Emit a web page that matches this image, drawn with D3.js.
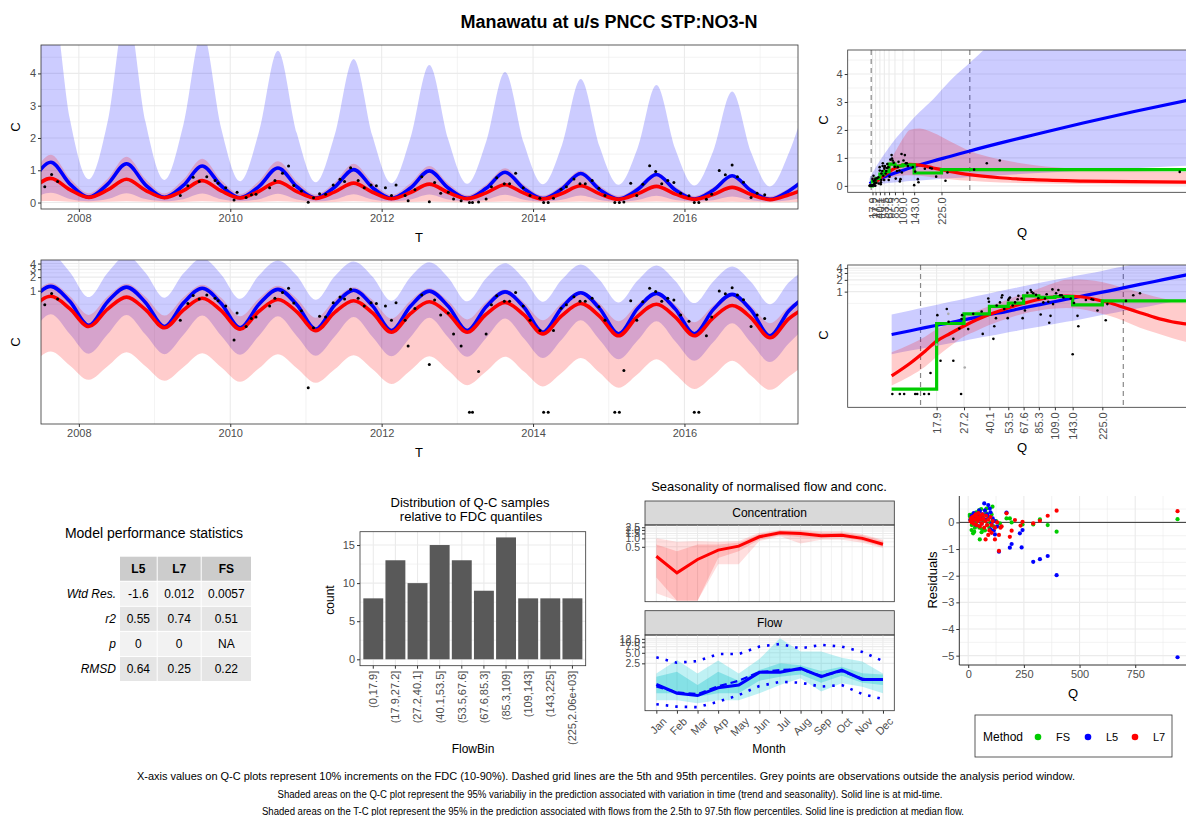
<!DOCTYPE html>
<html>
<head>
<meta charset="utf-8">
<script src="https://cdn.jsdelivr.net/npm/d3@7"></script>
<style>
  body { margin: 0; background: #fff; }
  svg text { font-family: "Liberation Sans", Arial, sans-serif; }
  .tick line { stroke: #333; }
  .tick text { fill: #4d4d4d; font-size: 11px; }
</style>
</head>
<body>
<svg id="chart" width="1186" height="816"></svg>
<script>
// ---------------- data ----------------
const chartTitle = "Manawatu at u/s PNCC STP:NO3-N";

// T-C model curves, sampled each quarter of a year (peaks ~Aug, troughs ~Feb)
const tcTime = [2007.38,2007.63,2007.88,2008.13,2008.38,2008.63,2008.88,2009.13,2009.38,2009.63,
  2009.88,2010.13,2010.38,2010.63,2010.88,2011.13,2011.38,2011.63,2011.88,2012.13,2012.38,2012.63,
  2012.88,2013.13,2013.38,2013.63,2013.88,2014.13,2014.38,2014.63,2014.88,2015.13,2015.38,2015.63,
  2015.88,2016.13,2016.38,2016.63,2016.88,2017.13,2017.38,2017.63];
const tcL5 = [0.60,1.25,0.58,0.17,0.57,1.20,0.55,0.16,0.53,1.13,0.52,0.15,0.50,1.07,0.49,0.14,0.48,1.02,
  0.46,0.13,0.45,0.98,0.45,0.13,0.44,0.94,0.43,0.12,0.42,0.90,0.40,0.11,0.40,0.87,0.39,0.11,0.38,0.83,
  0.37,0.10,0.36,0.80];
const tcL7 = [0.40,0.75,0.40,0.16,0.39,0.72,0.38,0.15,0.37,0.68,0.36,0.14,0.35,0.64,0.34,0.13,0.33,0.60,
  0.32,0.12,0.31,0.57,0.31,0.12,0.30,0.55,0.29,0.11,0.28,0.52,0.27,0.10,0.27,0.50,0.26,0.10,0.25,0.47,
  0.25,0.09,0.24,0.45];
const tcL5Hi = [2.5,6.5,2.6,0.72,2.5,6.0,2.5,0.70,2.4,5.3,2.3,0.66,2.2,4.7,2.15,0.63,2.1,4.45,2.05,0.60,
  2.0,4.26,1.95,0.58,1.88,4.04,1.83,0.57,1.77,3.83,1.73,0.55,1.68,3.64,1.65,0.53,1.6,3.44,1.56,0.50,1.54,3.3];
const tcL5Lo = [0.11,0.30,0.11,0.040,0.108,0.29,0.106,0.039,0.104,0.28,0.10,0.038,0.10,0.27,0.098,0.036,
  0.096,0.26,0.094,0.035,0.093,0.25,0.091,0.034,0.089,0.24,0.087,0.032,0.083,0.22,0.081,0.030,0.078,0.21,
  0.075,0.028,0.072,0.19,0.07,0.026,0.068,0.18];
const tcL7Hi = [0.76,1.48,0.76,0.29,0.74,1.42,0.73,0.28,0.71,1.36,0.70,0.27,0.67,1.28,0.66,0.25,0.63,1.20,
  0.62,0.24,0.60,1.13,0.59,0.23,0.56,1.06,0.55,0.22,0.53,0.99,0.52,0.21,0.50,0.93,0.49,0.20,0.47,0.87,
  0.46,0.19,0.44,0.82];
const tcL7Lo = [0.022,0.045,0.022,0.0105,0.021,0.043,0.021,0.010,0.020,0.041,0.020,0.0095,0.019,0.039,
  0.019,0.009,0.018,0.037,0.018,0.0085,0.017,0.035,0.017,0.008,0.016,0.034,0.016,0.0075,0.015,0.032,
  0.015,0.007,0.014,0.030,0.014,0.0066,0.013,0.028,0.013,0.0063,0.0125,0.026];

// observations [decimal year, C]
const tcObs = [[2007.55,0.49],[2007.64,0.87],[2007.72,0.65],
  [2009.34,0.22],[2009.44,0.52],[2009.51,0.78],[2009.59,0.65],[2009.69,0.80],[2009.80,0.68],[2009.84,0.60],[2009.94,0.46],
  [2010.05,0.08],[2010.09,0.32],[2010.21,0.16],[2010.28,0.24],[2010.34,0.26],[2010.52,0.46],[2010.59,0.68],[2010.69,0.91],
  [2010.77,1.13],[2010.84,0.53],[2010.94,0.36],
  [2011.03,0.007],[2011.10,0.15],[2011.18,0.27],[2011.26,0.26],[2011.36,0.54],[2011.45,0.72],[2011.51,0.65],[2011.59,1.08],
  [2011.69,0.68],[2011.77,0.46],[2011.86,0.54],[2011.93,0.52],
  [2012.05,0.46],[2012.13,0.22],[2012.19,0.54],[2012.31,0.22],[2012.35,0.059],[2012.44,0.40],[2012.53,0.80],[2012.63,0.023],
  [2012.70,0.62],[2012.78,0.29],[2012.88,0.32],[2012.95,0.11],
  [2013.05,0.059],[2013.16,0.002],[2013.20,0.002],[2013.28,0.016],[2013.38,0.11],[2013.45,0.49],[2013.52,0.77],[2013.62,0.58],
  [2013.69,0.58],[2013.77,0.91],[2013.87,0.46],[2013.96,0.22],
  [2014.09,0.13],[2014.14,0.002],[2014.20,0.002],[2014.27,0.13],[2014.37,0.41],[2014.44,0.49],[2014.54,0.73],[2014.62,0.58],
  [2014.69,0.58],[2014.78,0.68],[2014.87,0.44],[2014.95,0.22],
  [2015.08,0.002],[2015.14,0.002],[2015.20,0.017],[2015.29,0.60],[2015.37,0.22],[2015.45,0.57],[2015.54,1.14],[2015.62,0.96],
  [2015.70,0.58],[2015.78,0.68],[2015.86,0.62],[2015.95,0.29],
  [2016.06,0.21],[2016.13,0.002],[2016.19,0.002],[2016.29,0.10],[2016.36,0.26],[2016.46,0.99],[2016.54,0.86],[2016.63,1.16],
  [2016.70,0.80],[2016.78,0.63],[2016.88,0.16],[2016.96,0.29],[2017.06,0.24]];
const tYears = [2008,2010,2012,2014,2016];

// Q-C model curves
const qGrid = [9,12,15,18,22,27,33,40,50,60,75,90,110,130,160,200,250,310,400,500,650,800,1000];
const qcL5 = [0.080,0.100,0.12,0.138,0.16,0.19,0.22,0.26,0.30,0.35,0.42,0.48,0.56,0.64,0.75,0.89,1.05,1.25,1.53,1.82,2.25,2.65,3.15];
const qcL5Hi = [0.26,0.33,0.40,0.46,0.55,0.65,0.77,0.90,1.08,1.25,1.50,1.73,2.0,2.28,2.65,3.1,3.75,4.4,5.4,6.5,8.0,9.5,11.5];
const qcL5Lo = [0.025,0.031,0.036,0.041,0.048,0.055,0.064,0.073,0.086,0.098,0.115,0.13,0.15,0.17,0.195,0.23,0.27,0.32,0.38,0.45,0.54,0.63,0.74];
const qcL7 = [0.007,0.015,0.030,0.055,0.085,0.13,0.19,0.26,0.35,0.44,0.56,0.66,0.74,0.77,0.74,0.64,0.52,0.40,0.29,0.22,0.17,0.15,0.13];
const qcL7Hi = [0.028,0.045,0.07,0.11,0.16,0.22,0.32,0.42,0.58,0.75,1.0,1.3,1.7,2.0,2.05,1.9,1.6,1.25,0.95,0.75,0.6,0.53,0.5];
const qcL7Lo = [0.004,0.007,0.012,0.022,0.04,0.07,0.10,0.14,0.19,0.24,0.30,0.34,0.37,0.38,0.36,0.30,0.24,0.18,0.12,0.09,0.065,0.052,0.045];
// flow-stratified (FS) step: bin start and value
const fsEdges = [9,17.9,27.2,40.1,53.5,67.6,85.3,109,143,225,1000];
const fsVals  = [0.0032,0.153,0.27,0.42,0.51,0.78,0.71,0.75,0.46,0.58,0.58];
const qBreaks = [17.9,27.2,40.1,53.5,67.6,85.3,109.0,143.0,225.0];
const qPct = [14.0, 310];   // 5th and 95th flow percentiles

// observations [Q, C]
const qcObs = [[9.1,0.0024],[10.2,0.0024],[10.9,0.0024],[12.9,0.0024],[13.3,0.0024],[14.8,0.0024],[15.9,0.0024],[26.0,0.0024],
  [16.3,0.0083],[18.1,0.25],[20.9,0.36],[21.5,0.17],[23.1,0.062],[23.1,0.017],[19.0,0.017],
  [25.3,0.114],[26.2,0.20],[26.4,0.25],[29.0,0.11],[31.3,0.27],[35.6,0.31],[36.2,0.083],[39.4,0.67],[39.8,0.55],
  [42.6,0.062],[43.2,0.13],[44.3,0.21],[44.8,0.44],[47.1,0.53],[48.3,0.71],[48.8,0.81],[50.3,0.36],[53.0,0.21],
  [53.5,0.61],[54.1,0.67],[54.9,0.71],[57.2,0.44],[59.3,0.53],[61.7,0.64],[62.4,0.78],[65.6,0.67],[66.6,0.21],
  [69.0,0.33],[71.6,0.94],[75.3,1.10],[76.4,0.98],[78.4,0.91],[81.7,0.83],[84.7,0.68],[87.7,0.26],[91.4,0.53],
  [93.7,0.67],[96.1,0.86],[98.6,0.55],[100,0.16],[102,0.24],[105,1.14],[106,0.48],[111,0.91],[115,1.10],
  [118,0.81],[121,0.81],[124,0.71],[139,0.67],[143,0.025],[146,0.51],[154,0.24],[156,0.13],[175,0.61],
  [191,0.64],[196,0.62],[209,0.33],[237,0.185],[243,0.48],[323,0.58],[361,0.81],[400,0.91],[940,0.50]];
const qcObsOld = [[21.4,0.27],[17.9,0.044],[27.5,0.0115]];

// model performance table
const statCols = ["L5","L7","FS"];
const statRows = ["Wtd Res.","r2","p","RMSD"];
const statVals = [["-1.6","0.012","0.0057"],["0.55","0.74","0.51"],["0","0","NA"],["0.64","0.25","0.22"]];

// FDC histogram
const flowBins = ["(0,17.9]","(17.9,27.2]","(27.2,40.1]","(40.1,53.5]","(53.5,67.6]","(67.6,85.3]",
  "(85.3,109]","(109,143]","(143,225]","(225,2.06e+03]"];
const flowCounts = [8,13,10,15,13,9,16,8,8,8];

// seasonality
const months = [1,2,3,4,5,6,7,8,9,10,11,12];
const monthNames = ["Jan","Feb","Mar","Arp","May","Jun","Jul","Aug","Sep","Oct","Nov","Dec"];
const concMid   = [0.23,0.059,0.177,0.38,0.53,1.14,1.58,1.5,1.24,1.3,1.0,0.62];
const concOutHi = [1.0,0.75,0.8,0.75,0.8,1.6,2.0,2.0,1.8,1.8,1.4,0.9];
const concOutLo = [0.011,0.006,0.006,0.12,0.12,0.8,1.2,0.65,0.9,0.9,0.7,0.45];
const concInHi  = [0.6,0.35,0.6,0.6,0.7,1.4,1.9,1.8,1.6,1.6,1.3,0.8];
const concInLo  = [0.04,0.006,0.006,0.2,0.35,0.9,1.3,1.1,1.0,1.1,0.8,0.5];
const flowMed   = [0.63,0.35,0.30,0.50,0.60,1.38,1.40,1.79,1.04,1.61,0.87,0.87];
const flowMean  = [0.55,0.37,0.33,0.55,0.80,1.40,1.60,1.70,1.10,1.50,0.90,0.85];
const flowP90   = [3.7,2.6,2.9,4.6,4.6,7.5,8.9,6.7,8.4,7.5,5.3,2.9];
const flowP10   = [0.17,0.145,0.14,0.20,0.31,0.56,0.74,0.70,0.54,0.60,0.33,0.24];
const flowOutHi = [1.29,3.1,1.29,3.0,1.29,3.3,12.9,5.4,5.4,3.6,2.8,1.29];
const flowOutLo = [0.22,0.22,0.18,0.22,0.22,0.35,0.6,0.93,0.39,0.67,0.54,0.35];
const flowInHi  = [1.04,1.44,0.6,1.44,0.8,1.6,2.5,2.2,1.5,2.0,1.3,1.2];
const flowInLo  = [0.35,0.35,0.28,0.35,0.35,0.8,1.04,1.2,0.7,1.1,0.7,0.6];

// residuals [Q, residual]
const resFS = [[8,0.22],[10,0.1],[12,0.28],[14,0.05],[16,-0.1],[18,0.18],[20,0.3],[22,-0.05],[25,0.12],[27,-0.35],
  [30,0.2],[33,0.0],[36,0.38],[40,0.15],[42,-0.12],[45,0.3],[48,0.45],[50,-0.2],[55,0.1],[58,0.5],[62,-0.25],
  [65,0.2],[70,0.05],[75,-0.3],[80,0.35],[85,-0.1],[90,0.15],[95,-0.2],[100,0.0],[105,0.3],[115,-0.15],[125,0.05],
  [940,0.12],[397,-0.35],[357,-0.1],[322,0.11],[292,-0.08],[244,-0.08],[195,0.0],[187,0.15],[172,0.15],[142,-0.04],
  [109,0.59],[52,-0.64],[15,-0.29],[22,-0.41],[30,-0.2],[7,0.28],[60,-0.37],[82,0.52]];
const resL5 = [[10,0.1],[15,0.25],[20,0.0],[25,0.35],[30,0.15],[35,-0.1],[40,0.3],[45,0.1],[50,0.45],[55,0.2],
  [60,-0.05],[65,0.3],[75,0.45],[80,0.1],[85,0.3],[95,0.2],[100,0.38],[105,-0.05],[110,0.15],[115,-0.3],[120,0.05],
  [130,-0.15],[940,-5.06],[397,-1.98],[357,-1.26],[322,-1.38],[292,-1.48],[240,-0.94],[195,-0.81],[187,-0.95],
  [138,-1.1],[232,-0.41],[244,-0.29],[172,0.37],[72,0.71],[90,0.65],[97,0.52],[120,-0.45],[100,-0.26],[52,0.4],[37,0.21]];
const resL7 = [[10,0.05],[13,0.15],[16,0.0],[19,0.2],[22,0.1],[25,-0.05],[28,0.25],[31,0.1],[34,0.3],[37,-0.1],
  [40,0.2],[43,0.05],[46,0.35],[49,0.15],[52,-0.15],[55,0.25],[58,0.1],[61,-0.05],[64,0.3],[68,0.15],[72,-0.2],
  [76,0.05],[80,0.25],[85,-0.1],[90,0.1],[95,-0.3],[100,0.2],[105,-0.1],[110,0.05],[120,-0.2],[130,0.0],[145,-0.2],
  [150,-0.15],[940,0.42],[397,0.44],[357,0.25],[322,0.06],[292,-0.04],[244,0.02],[235,-0.12],[195,-0.31],[187,-0.54],
  [172,0.34],[138,-1.07],[138,-0.47],[120,-0.64],[78,-0.64],[210,0.09],[90,-0.47],[105,-0.39]];
const methods = ["FS","L5","L7"];
const methodColor = {FS: "#00cc00", L5: "#0000ff", L7: "#ff0000"};

const footNotes = [
  "X-axis values on Q-C plots represent 10% increments on the FDC (10-90%). Dashed grid lines are the 5th and 95th percentiles. Grey points are observations outside the analysis period window.",
  "Shaded areas on the Q-C plot represent the 95% variabiliy in the prediction associated with variation in time (trend and seasonality).  Solid line is at mid-time.",
  "Shaded areas on the T-C plot represent the 95% in the prediction associated with flows from the 2.5th to 97.5th flow percentiles.  Solid line is prediction at median flow."
];

// ---------------- helpers ----------------
const svg = d3.select("#chart");
const defs = svg.append("defs");
const BLUE_FILL = "rgba(0,0,255,0.2)", RED_FILL = "rgba(255,0,0,0.2)";
let clipCount = 0;

function clipUrl(x0, y0, x1, y1) {
  const id = "clip" + (clipCount++);
  defs.append("clipPath").attr("id", id).append("rect")
    .attr("x", x0).attr("y", y0).attr("width", x1 - x0).attr("height", y1 - y0);
  return `url(#${id})`;
}

// background grid + clipped plot layer
function panel(x, y, o) {
  const [x0, x1] = x.range(), [y1, y0] = y.range();
  const g = svg.append("g");
  const grid = g.append("g");
  const vLines = (vals, w) => grid.selectAll(null).data(vals || []).join("line")
      .attr("x1", d => x(d)).attr("x2", d => x(d)).attr("y1", y0).attr("y2", y1)
      .attr("stroke", "#ebebeb").attr("stroke-width", w);
  const hLines = (vals, w) => grid.selectAll(null).data(vals || []).join("line")
      .attr("y1", d => y(d)).attr("y2", d => y(d)).attr("x1", x0).attr("x2", x1)
      .attr("stroke", "#ebebeb").attr("stroke-width", w);
  vLines(o.xMinor, 0.6); hLines(o.yMinor, 0.6);
  vLines(o.xMajor, 1.1); hLines(o.yMajor, 1.1);
  const plot = g.append("g").attr("clip-path", clipUrl(x0, y0, x1, y1));
  return {g, plot, x0, x1, y0, y1};
}

function border(p) {
  p.g.append("rect").attr("x", p.x0).attr("y", p.y0)
    .attr("width", p.x1 - p.x0).attr("height", p.y1 - p.y0)
    .attr("fill", "none").attr("stroke", "#333").attr("stroke-width", 0.8);
}

function axisBottom(p, x, vals, fmt) {
  const a = p.g.append("g").attr("transform", `translate(0,${p.y1})`)
    .call(d3.axisBottom(x).tickValues(vals).tickFormat(fmt).tickSize(3).tickPadding(2));
  a.select(".domain").remove();
  return a;
}
function axisLeft(p, y, vals, fmt) {
  const a = p.g.append("g").attr("transform", `translate(${p.x0},0)`)
    .call(d3.axisLeft(y).tickValues(vals).tickFormat(fmt).tickSize(3).tickPadding(2));
  a.select(".domain").remove();
  return a;
}
function label(txt, x, y, size, rot, weight) {
  const t = svg.append("text").attr("x", x).attr("y", y)
    .attr("text-anchor", "middle").attr("dominant-baseline", "central")
    .attr("font-size", size).attr("fill", "#000").text(txt);
  if (rot) t.attr("transform", `rotate(${rot},${x},${y})`);
  if (weight) t.attr("font-weight", weight);
  return t;
}

svg.append("text").attr("x", 609).attr("y", 28).attr("text-anchor", "middle")
  .attr("font-size", 18).attr("font-weight", "bold").text(chartTitle);

// ---------------- T-C panels ----------------
const tcRows = tcTime.map((t, i) => ({t, l5: tcL5[i], l7: tcL7[i], l5hi: tcL5Hi[i], l5lo: tcL5Lo[i],
  l7hi: tcL7Hi[i], l7lo: tcL7Lo[i]}));

function tcPanel(top, y, yMajor, yMinor, yTicks, yFmt) {
  const x = d3.scaleLinear().domain([2007.5, 2017.5]).range([41, 798]);
  y.range([top + 164, top]);
  const p = panel(x, y, {xMajor: tYears, xMinor: [2009,2011,2013,2015,2017], yMajor, yMinor});
  const area = (lo, hi) => d3.area().x(d => x(d.t)).y0(d => y(d[lo])).y1(d => y(d[hi])).curve(d3.curveMonotoneX);
  const line = k => d3.line().x(d => x(d.t)).y(d => y(d[k])).curve(d3.curveMonotoneX);
  p.plot.append("path").datum(tcRows).attr("d", area("l5lo", "l5hi")).attr("fill", BLUE_FILL);
  p.plot.append("path").datum(tcRows).attr("d", area("l7lo", "l7hi")).attr("fill", RED_FILL);
  p.plot.append("path").datum(tcRows).attr("d", line("l5")).attr("fill", "none").attr("stroke", "#0000ff").attr("stroke-width", 3.6);
  p.plot.append("path").datum(tcRows).attr("d", line("l7")).attr("fill", "none").attr("stroke", "#ff0000").attr("stroke-width", 3.6);
  p.plot.selectAll(null).data(tcObs).join("circle")
    .attr("cx", d => x(d[0])).attr("cy", d => y(d[1])).attr("r", 1.5).attr("fill", "#000");
  border(p);
  axisBottom(p, x, tYears, d3.format("d"));
  axisLeft(p, y, yTicks, yFmt);
  label("T", 419, top + 192, 13);
  label("C", 15, top + 82, 13, -90);
}
tcPanel(45, d3.scaleLinear().domain([-0.2, 4.88]), [0,1,2,3,4], [0.5,1.5,2.5,3.5,4.5], [0,1,2,3,4], d3.format("d"));
tcPanel(260, d3.scaleLog().domain([0.0011, 4.8]), [1,2,3,4], [0.5,1.5,2.5,3.5], [1,2,3,4], d3.format("d"));

// ---------------- Q-C panels ----------------
const qcRows = qGrid.map((q, i) => ({q, l5: qcL5[i], l7: qcL7[i], l5hi: qcL5Hi[i], l5lo: qcL5Lo[i],
  l7hi: qcL7Hi[i], l7lo: qcL7Lo[i]}));
const fsRows = fsEdges.map((q, i) => ({q, v: fsVals[i]}));

function qcPanel(top, x, y, yMajor, yMinor, yTicks) {
  const h = 142.3;
  y.range([top + h, top]);
  const p = panel(x, y, {xMajor: qBreaks, yMajor, yMinor});
  const area = (lo, hi) => d3.area().x(d => x(d.q)).y0(d => y(d[lo])).y1(d => y(d[hi])).curve(d3.curveMonotoneX);
  const line = k => d3.line().x(d => x(d.q)).y(d => y(d[k])).curve(d3.curveMonotoneX);
  p.plot.selectAll(null).data(qPct).join("line")
    .attr("x1", d => x(d)).attr("x2", d => x(d)).attr("y1", p.y0).attr("y2", p.y1)
    .attr("stroke", "#888").attr("stroke-width", 1.2).attr("stroke-dasharray", "5,4");
  p.plot.append("path").datum(qcRows).attr("d", area("l5lo", "l5hi")).attr("fill", BLUE_FILL);
  p.plot.append("path").datum(qcRows).attr("d", area("l7lo", "l7hi")).attr("fill", RED_FILL);
  p.plot.append("path").datum(qcRows).attr("d", line("l5")).attr("fill", "none").attr("stroke", "#0000ff").attr("stroke-width", 3.2);
  p.plot.append("path").datum(qcRows).attr("d", line("l7")).attr("fill", "none").attr("stroke", "#ff0000").attr("stroke-width", 3.2);
  p.plot.append("path").datum(fsRows)
    .attr("d", d3.line().x(d => x(d.q)).y(d => y(d.v)).curve(d3.curveStepAfter))
    .attr("fill", "none").attr("stroke", "#00cc00").attr("stroke-width", 3.2);
  p.plot.selectAll(null).data(qcObsOld).join("circle")
    .attr("cx", d => x(d[0])).attr("cy", d => y(d[1])).attr("r", 1.3).attr("fill", "#aaa");
  p.plot.selectAll(null).data(qcObs).join("circle")
    .attr("cx", d => x(d[0])).attr("cy", d => y(d[1])).attr("r", 1.3).attr("fill", "#000");
  border(p);
  const ax = axisBottom(p, x, qBreaks, d3.format(".1f"));
  ax.selectAll("text").attr("transform", "rotate(-90)").attr("text-anchor", "end")
    .attr("x", -5).attr("y", 0).attr("dy", "0.35em");
  axisLeft(p, y, yTicks, d3.format("d"));
  label("Q", 1022, top + 182, 13);
  label("C", 823, top + 70, 13, -90);
}
qcPanel(50, d3.scaleLinear().domain([-56.5, 988]).range([847.7, 1195.7]),
  d3.scaleLinear().domain([-0.23, 4.86]), [0,1,2,3,4], [0.5,1.5,2.5,3.5,4.5], [0,1,2,3,4]);
qcPanel(265, d3.scaleLog().domain([4.6, 937]).range([847.7, 1195.7]),
  d3.scaleLog().domain([0.0011, 4.8]), [1,2,3,4], [0.5,1.5,2.5,3.5], [1,2,3,4]);

// ---------------- statistics table ----------------
label("Model performance statistics", 154, 533, 14);
const colX = d3.scaleOrdinal().domain(statCols).range([120, 157.7, 201.7]);
const colW = d3.scaleOrdinal().domain(statCols).range([36.7, 43, 49.3]);
const rowY = d3.scaleBand().domain(["head"].concat(statRows)).range([556.7, 681]).paddingInner(0.04);
const tbl = svg.append("g");
tbl.selectAll(null).data(statCols).join("rect")
  .attr("x", c => colX(c)).attr("y", rowY("head")).attr("width", c => colW(c)).attr("height", rowY.bandwidth())
  .attr("fill", "#cccccc");
tbl.selectAll(null).data(statCols).join("text")
  .attr("x", c => colX(c) + colW(c) / 2).attr("y", rowY("head") + rowY.bandwidth() / 2)
  .attr("text-anchor", "middle").attr("dominant-baseline", "central")
  .attr("font-size", 12).attr("font-weight", "bold").text(c => c);
statRows.forEach((r, i) => {
  const yy = rowY(r);
  tbl.selectAll(null).data(statCols).join("rect")
    .attr("x", c => colX(c)).attr("y", yy).attr("width", c => colW(c)).attr("height", rowY.bandwidth())
    .attr("fill", i % 2 === 0 ? "#f2f2f2" : "#e5e5e5");
  tbl.selectAll(null).data(statCols).join("text")
    .attr("x", c => colX(c) + colW(c) / 2).attr("y", yy + rowY.bandwidth() / 2)
    .attr("text-anchor", "middle").attr("dominant-baseline", "central").attr("font-size", 12)
    .text((c, j) => statVals[i][j]);
  tbl.append("text").attr("x", 116).attr("y", yy + rowY.bandwidth() / 2)
    .attr("text-anchor", "end").attr("dominant-baseline", "central")
    .attr("font-size", 12).attr("font-style", "italic").text(r);
});

// ---------------- FDC histogram ----------------
label("Distribution of Q-C samples", 470, 502, 13);
label("relative to FDC quantiles", 471, 516, 13);
{
  const x = d3.scaleBand().domain(flowBins).range([360, 585.7]).paddingInner(0.1).paddingOuter(0.15);
  const y = d3.scaleLinear().domain([-0.84, 16.75]).range([665.7, 531.7]);
  const p = panel(x, y, {yMajor: [0,5,10,15], yMinor: [2.5,7.5,12.5]});
  p.g.select("g").selectAll(null).data(flowBins).join("line")
    .attr("x1", d => x(d) + x.bandwidth() / 2).attr("x2", d => x(d) + x.bandwidth() / 2)
    .attr("y1", p.y0).attr("y2", p.y1).attr("stroke", "#ebebeb").attr("stroke-width", 1.1);
  p.plot.selectAll(null).data(flowBins).join("rect")
    .attr("x", d => x(d)).attr("width", x.bandwidth())
    .attr("y", (d, i) => y(flowCounts[i])).attr("height", (d, i) => y(0) - y(flowCounts[i]))
    .attr("fill", "#595959");
  border(p);
  const ax = axisBottom(p, x, flowBins, d => d);
  ax.selectAll("text").attr("transform", "rotate(-90)").attr("text-anchor", "end")
    .attr("x", -5).attr("y", 0).attr("dy", "0.35em");
  axisLeft(p, y, [0,5,10,15], d3.format("d"));
  label("FlowBin", 473, 749, 12);
  label("count", 330, 600, 12, -90);
}

// ---------------- seasonality ----------------
label("Seasonality of normalised flow and conc.", 769, 486, 13);
{
  const x = d3.scaleLinear().domain([0.45, 12.55]).range([645, 894.3]);
  const halfMonths = months.slice(0, 11).map(m => m + 0.5);
  const strip = (y0, y1, txt) => {
    svg.append("rect").attr("x", 645).attr("y", y0).attr("width", 249.3).attr("height", y1 - y0)
      .attr("fill", "#d9d9d9").attr("stroke", "#333").attr("stroke-width", 0.8);
    label(txt, 769.6, (y0 + y1) / 2, 12);
  };
  const rows = (hiA, loA) => months.map((m, i) => ({m, hi: hiA[i], lo: loA[i]}));

  // concentration facet
  strip(501, 525, "Concentration");
  const yc = d3.scaleLog().domain([0.0055, 3.0]).range([601.7, 525]);
  const pc = panel(x, yc, {xMajor: months, xMinor: halfMonths, yMajor: [0.5,1.0,1.5,2.0,2.5], yMinor: [0.75,1.25,1.75,2.25]});
  const bandC = d3.area().x(d => x(d.m)).y0(d => yc(d.lo)).y1(d => yc(d.hi));
  pc.plot.append("path").attr("d", bandC(rows(concOutHi, concOutLo))).attr("fill", "rgba(255,0,0,0.13)");
  pc.plot.append("path").attr("d", bandC(rows(concInHi, concInLo))).attr("fill", "rgba(255,0,0,0.16)");
  pc.plot.append("path").datum(months)
    .attr("d", d3.line().x(m => x(m)).y((m, i) => yc(concMid[i])))
    .attr("fill", "none").attr("stroke", "#ff0000").attr("stroke-width", 3);
  border(pc);
  axisLeft(pc, yc, [0.5,1.0,1.5,2.0,2.5], d3.format(".1f")).selectAll("text").style("font-size", "10.5px");

  // flow facet
  strip(610.7, 635, "Flow");
  const yf = d3.scaleLog().domain([0.111, 16.1]).range([710.7, 635]);
  const pf = panel(x, yf, {xMajor: months, xMinor: halfMonths, yMajor: [2.5,5,7.5,10,12.5], yMinor: [3.75,6.25,8.75,11.25]});
  const bandF = d3.area().x(d => x(d.m)).y0(d => yf(d.lo)).y1(d => yf(d.hi));
  pf.plot.append("path").attr("d", bandF(rows(flowOutHi, flowOutLo))).attr("fill", "rgba(0,200,210,0.25)");
  pf.plot.append("path").attr("d", bandF(rows(flowInHi, flowInLo))).attr("fill", "rgba(0,190,200,0.3)");
  const fLine = arr => d3.line().x(m => x(m)).y((m, i) => yf(arr[i]));
  pf.plot.append("path").datum(months).attr("d", fLine(flowP90)).attr("fill", "none")
    .attr("stroke", "#0000ff").attr("stroke-width", 2.6).attr("stroke-dasharray", "2.5,7");
  pf.plot.append("path").datum(months).attr("d", fLine(flowP10)).attr("fill", "none")
    .attr("stroke", "#0000ff").attr("stroke-width", 2.6).attr("stroke-dasharray", "2.5,7");
  pf.plot.append("path").datum(months).attr("d", fLine(flowMean)).attr("fill", "none")
    .attr("stroke", "#0000ff").attr("stroke-width", 2.2).attr("stroke-dasharray", "7,4");
  pf.plot.append("path").datum(months).attr("d", fLine(flowMed)).attr("fill", "none")
    .attr("stroke", "#0000ff").attr("stroke-width", 3);
  border(pf);
  axisLeft(pf, yf, [2.5,5,7.5,10,12.5], d3.format(".1f")).selectAll("text").style("font-size", "10.5px");
  const ax = axisBottom(pf, x, months, (m, i) => monthNames[i]);
  ax.selectAll("text").attr("x", 0).attr("y", 0).attr("dy", "0.71em")
    .attr("text-anchor", "end").attr("transform", "translate(5,6) rotate(-45)");
  label("Month", 769, 749, 12);
}

// ---------------- residuals ----------------
{
  const x = d3.scaleLinear().domain([-40, 996]).range([959.3, 1190]);
  const y = d3.scaleLinear().domain([-5.35, 0.99]).range([665, 496]);
  const p = panel(x, y, {xMajor: [0,250,500,750], xMinor: [125,375,625,875],
    yMajor: [0,-1,-2,-3,-4,-5], yMinor: [0.5,-0.5,-1.5,-2.5,-3.5,-4.5]});
  p.plot.append("line").attr("x1", p.x0).attr("x2", p.x1).attr("y1", y(0)).attr("y2", y(0))
    .attr("stroke", "#333").attr("stroke-width", 1);
  const resByMethod = {FS: resFS, L5: resL5, L7: resL7};
  methods.forEach(m => {
    p.plot.selectAll(null).data(resByMethod[m]).join("circle")
      .attr("cx", d => x(d[0])).attr("cy", d => y(d[1])).attr("r", 2.1).attr("fill", methodColor[m]);
  });
  p.g.append("line").attr("x1", p.x0).attr("x2", p.x0).attr("y1", p.y0).attr("y2", p.y1).attr("stroke", "#333");
  p.g.append("line").attr("x1", p.x0).attr("x2", p.x1).attr("y1", p.y1).attr("y2", p.y1).attr("stroke", "#333");
  axisBottom(p, x, [0,250,500,750], d3.format("d"));
  axisLeft(p, y, [0,-1,-2,-3,-4,-5], d3.format("d"));
  label("Q", 1073, 693, 13);
  label("Residuals", 932, 580, 13, -90);

  // legend
  const lg = svg.append("g");
  lg.append("rect").attr("x", 975).attr("y", 715).attr("width", 197).attr("height", 42)
    .attr("fill", "#fff").attr("stroke", "#333").attr("stroke-width", 0.8);
  lg.append("text").attr("x", 983).attr("y", 737).attr("dominant-baseline", "central")
    .attr("font-size", 12).text("Method");
  const lx = d3.scaleOrdinal().domain(methods).range([1038, 1088, 1135]);
  lg.selectAll(null).data(methods).join("circle")
    .attr("cx", m => lx(m)).attr("cy", 737).attr("r", 3.3).attr("fill", m => methodColor[m]);
  lg.selectAll(null).data(methods).join("text")
    .attr("x", m => lx(m) + 18).attr("y", 737).attr("dominant-baseline", "central")
    .attr("font-size", 11).text(m => m);
}

// ---------------- footnotes ----------------
const footX = [606, 610, 613], footLen = [938, 665, 702], footSize = [11, 10, 10];
svg.selectAll(".foot").data(footNotes).join("text").attr("class", "foot")
  .attr("x", (d, i) => footX[i]).attr("y", (d, i) => 780 + i * 17.5)
  .attr("text-anchor", "middle").attr("font-size", (d, i) => footSize[i])
  .attr("textLength", (d, i) => footLen[i]).attr("lengthAdjust", "spacingAndGlyphs")
  .text(d => d);
</script>
</body>
</html>
